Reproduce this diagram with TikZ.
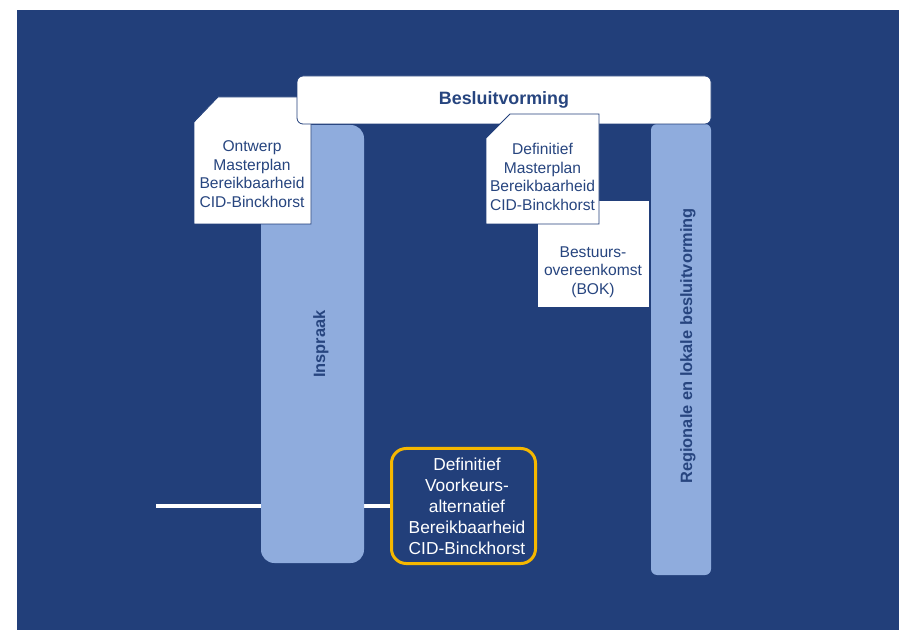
\documentclass[tikz,border=0pt]{standalone}
\usepackage{fontspec}
\setmainfont{Liberation Sans}
\definecolor{bgblue}{HTML}{223F7A}
\definecolor{barblue}{HTML}{8FACDD}
\definecolor{txtblue}{HTML}{27457F}
\definecolor{gold}{HTML}{F5B700}
\tikzset{
  bar/.style={fill=barblue, draw=none, inner sep=0pt},
  card/.style={fill=white, draw=bgblue, line width=0.6pt},
  cardtext/.style={text=txtblue, align=center, inner sep=0pt,
    font=\fontsize{11.7}{14}\selectfont},
  bartext/.style={text=txtblue, rotate=90, inner sep=0pt,
    font=\fontsize{12.3}{14}\selectfont\bfseries},
}
\begin{document}
\begin{tikzpicture}[x=0.75pt,y=-0.75pt]
    \useasboundingbox (0,0) rectangle (899,630);
    \fill[white] (0,0) rectangle (899,630);
    \fill[bgblue] (17,10) rectangle (899,630);
    \coordinate (L) at (156,506);
    \node (V) [draw=gold, line width=2.25pt, rounded corners=11pt,
      minimum width=108pt, minimum height=86.25pt, inner sep=0pt] at (463.5,506) {};
    \node [text=white, align=center, inner sep=0pt,
      font=\fontsize{13}{15.75}\selectfont] at (467,506)
      {Definitief\\Voorkeurs-\\alternatief\\Bereikbaarheid\\CID-Binckhorst};
    \draw[white, line width=3pt] (L) -- (V.west);
    \node (I) [bar, rounded corners=10pt, minimum width=77.25pt,
      minimum height=328.5pt] at (312.5,344) {};
    \node [bartext] at (321,344) {Inspraak};
    \node (R) [bar, rounded corners=4.5pt, minimum width=45pt,
      minimum height=338.25pt] at (681,349.5) {};
    \node [bartext] at (688,346) {Regionale en lokale besluitvorming};
    \draw[card] (194,122) -- (218,97) -- (311,97) -- (311,224) -- (194,224) -- cycle;
    \node (O) [cardtext] at (252,174)
      {Ontwerp\\Masterplan\\Bereikbaarheid\\CID-Binckhorst};
    \node (B) [card, rounded corners=4.5pt, minimum width=310.5pt,
      minimum height=36pt, text=txtblue,
      font=\fontsize{13.4}{16}\selectfont\bfseries] at (504,100) {Besluitvorming};
    \node (K) [card, minimum width=84pt, minimum height=80.25pt] at (593,253.5) {};
    \node [cardtext] at (593,272) {Bestuurs-\\overeenkomst\\(BOK)};
    \draw[card] (486,138) -- (510,114) -- (599,114) -- (599,224) -- (486,224) -- cycle;
    \node (D) [cardtext] at (542.5,177)
      {Definitief\\Masterplan\\Bereikbaarheid\\CID-Binckhorst};
\end{tikzpicture}
\end{document}
